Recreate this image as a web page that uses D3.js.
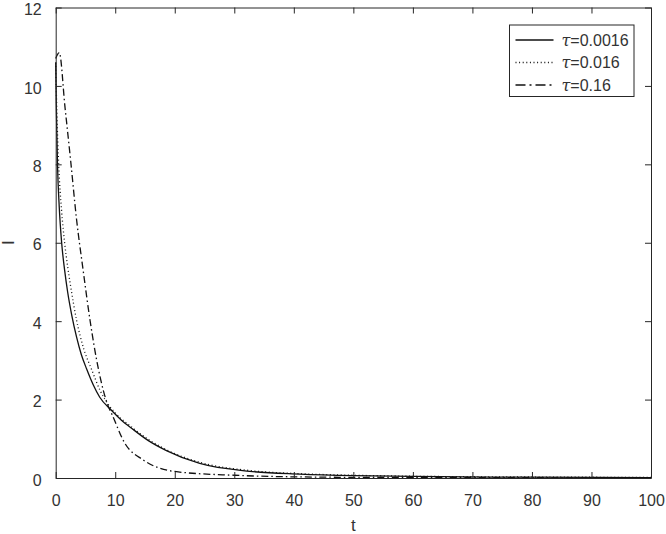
<!DOCTYPE html>
<html>
<head>
<meta charset="utf-8">
<script src="https://cdn.jsdelivr.net/npm/d3@7"></script>
<style>
  body { margin: 0; background: #fff; }
  text { font-family: "Liberation Sans", Arial, sans-serif; fill: #333; }
</style>
</head>
<body>
<svg id="chart"></svg>
<script>
////////////
// DATA
////////////
const xTicks = [0, 10, 20, 30, 40, 50, 60, 70, 80, 90, 100];
const yTicks = [0, 2, 4, 6, 8, 10, 12];

const tauLabels = ["0.0016", "0.016", "0.16"];

// tau = 0.0016 (solid)
const t1 = [0, 0.1, 0.3, 0.6, 1.0, 1.5, 2.0, 2.7, 3.5, 4.3, 5.2, 6.3, 7.4, 9.4, 11, 13, 15.5, 18.6, 24.2, 32.6, 41, 50, 60, 80, 100];
const i1 = [10.6, 9.5, 8.0, 6.9, 6.0, 5.3, 4.75, 4.15, 3.6, 3.15, 2.78, 2.38, 2.06, 1.72, 1.48, 1.24, 0.96, 0.70, 0.37, 0.17, 0.1, 0.06, 0.04, 0.02, 0.012];

// tau = 0.016 (dotted)
const t2 = [0, 0.2, 0.5, 1.0, 1.5, 2.0, 2.5, 3.5, 4.7, 6.05, 7.5, 9.0, 10, 13, 15.5, 18.6, 24.2, 32.6, 41, 50, 60, 80, 100];
const i2 = [10.6, 9.3, 8.0, 6.8, 6.0, 5.4, 4.9, 4.03, 3.3, 2.76, 2.22, 1.84, 1.66, 1.27, 0.99, 0.72, 0.40, 0.19, 0.11, 0.07, 0.045, 0.025, 0.015];

// tau = 0.16 (dash-dot)
const t3 = [0, 0.6, 1.56, 2.5, 3.5, 4.6, 5.76, 7.2, 8.8, 9.4, 11.6, 14.7, 20.3, 30, 40, 60, 80, 100];
const i3 = [10.7, 10.85, 9.46, 8.11, 6.6, 5.31, 4.03, 2.76, 1.84, 1.64, 0.89, 0.46, 0.16, 0.07, 0.03, 0.01, 0.006, 0.005];

////////////
// SETTINGS
////////////
const width = 666, height = 534;
const plot = { left: 55.7, right: 651, top: 7.5, bottom: 478 };
const ink = "#262626";

const svg = d3.select("#chart").attr("width", width).attr("height", height);

const x = d3.scaleLinear().domain([0, 100]).range([plot.left, plot.right]);
const y = d3.scaleLinear().domain([0, 12]).range([plot.bottom, plot.top]);

const series = [
    { t: t1, v: i1, dash: null },
    { t: t2, v: i2, dash: "1,2.6" },
    { t: t3, v: i3, dash: "7,3,1.5,3" }
];

////////////
// DRAWING
////////////
const line = d3.line()
    .x(d => x(d[0]))
    .y(d => y(d[1]))
    .curve(d3.curveMonotoneX);

const lines = svg.append("g").attr("class", "lines");
series.forEach(function (s) {
    lines.append("path")
        .datum(s.t.map((t, i) => [t, s.v[i]]))
        .attr("d", line)
        .attr("fill", "none")
        .attr("stroke", "#111")
        .attr("stroke-width", 1.3)
        .attr("stroke-dasharray", s.dash);
});

// axes, matlab-style box with inward ticks on every side
const tickLen = 6;
const axisBottom = d3.axisBottom(x).tickValues(xTicks).tickSizeInner(-tickLen).tickSizeOuter(0).tickPadding(14);
const axisTop = d3.axisTop(x).tickValues(xTicks).tickSizeInner(-tickLen).tickSizeOuter(0).tickFormat("");
const axisLeft = d3.axisLeft(y).tickValues(yTicks).tickSizeInner(-tickLen).tickSizeOuter(0).tickPadding(14);
const axisRight = d3.axisRight(y).tickValues(yTicks).tickSizeInner(-tickLen).tickSizeOuter(0).tickFormat("");

function styleAxis(g) {
    g.select(".domain").attr("stroke", ink).attr("stroke-width", 1);
    g.selectAll(".tick line").attr("stroke", ink).attr("stroke-width", 1);
    g.selectAll(".tick text").style("font-size", "16px").attr("fill", "#333");
}

svg.append("g").attr("transform", `translate(0,${plot.bottom})`).call(axisBottom).call(styleAxis)
    .selectAll(".tick text").attr("dy", "0.9em");
svg.append("g").attr("transform", `translate(0,${plot.top})`).call(axisTop).call(styleAxis);
svg.append("g").attr("transform", `translate(${plot.left},0)`).call(axisLeft).call(styleAxis)
    .selectAll(".tick text").attr("dy", "0.45em");
svg.append("g").attr("transform", `translate(${plot.right},0)`).call(axisRight).call(styleAxis);

// axis labels
svg.append("text")
    .attr("x", (plot.left + plot.right) / 2)
    .attr("y", 531)
    .attr("text-anchor", "middle")
    .style("font-size", "17px")
    .text("t");

svg.append("text")
    .attr("transform", `translate(14,${(plot.top + plot.bottom) / 2}) rotate(-90)`)
    .attr("text-anchor", "middle")
    .style("font-size", "17px")
    .text("I");

// legend
const legend = svg.append("g").attr("transform", "translate(509.5,25)");
legend.append("rect")
    .attr("width", 124.5)
    .attr("height", 71.5)
    .attr("fill", "#fff")
    .attr("stroke", ink)
    .attr("stroke-width", 1);

const legendDash = [null, "1,2.6", "10,4,2,4"];
tauLabels.forEach(function (lab, i) {
    const row = legend.append("g").attr("transform", `translate(0,${15 + i * 22.5})`);
    row.append("line")
        .attr("x1", 6).attr("x2", 44)
        .attr("stroke", "#111")
        .attr("stroke-width", 1.3)
        .attr("stroke-dasharray", legendDash[i]);
    const txt = row.append("text")
        .attr("x", 52)
        .attr("dy", "0.36em")
        .style("font-size", "16px");
    txt.append("tspan").attr("font-family", "DejaVu Serif").style("font-style", "italic").text("τ");
    txt.append("tspan").text("=" + lab);
});
</script>
</body>
</html>
